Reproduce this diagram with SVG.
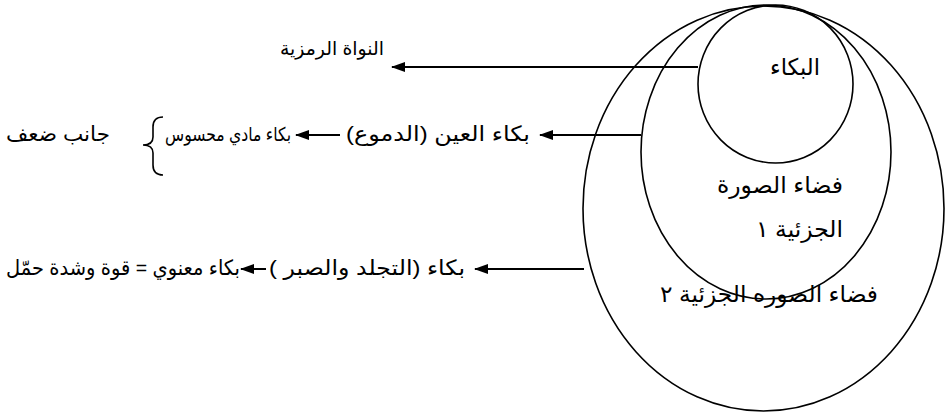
<svg xmlns="http://www.w3.org/2000/svg" width="946" height="413" viewBox="0 0 946 413">
<defs>
<style>
.c{fill:none;stroke:#000;stroke-width:1.6}
.l{fill:none;stroke:#000;stroke-width:2}
.t{font-family:"Liberation Sans","DejaVu Sans",sans-serif;font-size:21px;fill:#000;direction:rtl;text-anchor:start}
.s{font-size:19px}
.tc{font-family:"Liberation Sans","DejaVu Sans",sans-serif;font-size:23px;fill:#000;direction:rtl;text-anchor:start}
</style>
<marker id="ah" viewBox="0 0 14 10" refX="13" refY="5" markerWidth="14" markerHeight="10" markerUnits="userSpaceOnUse" orient="auto">
<path d="M0,0 L14,5 L0,10 z" fill="#000"/>
</marker>
</defs>
<rect width="946" height="413" fill="#fff"/>
<g id="outer-circle"><ellipse class="c" cx="763.5" cy="208.5" rx="180.5" ry="202.5"/>
<text class="tc" x="878" y="302" textLength="218" lengthAdjust="spacingAndGlyphs">فضاء الصوره الجزئية ٢</text></g>
<g id="middle-circle"><ellipse class="c" cx="766" cy="152" rx="125" ry="147"/>
<text class="tc" x="843" y="193" textLength="126" lengthAdjust="spacingAndGlyphs">فضاء الصورة</text>
<text class="tc" x="843" y="237" textLength="87" lengthAdjust="spacingAndGlyphs">الجزئية ١</text></g>
<g id="inner-circle"><ellipse class="c" cx="775.5" cy="84" rx="77.5" ry="79"/>
<text class="tc" x="820" y="75" textLength="50" lengthAdjust="spacingAndGlyphs">البكاء</text></g>
<g id="connectors">
<line class="l" x1="698" y1="67" x2="392" y2="67" marker-end="url(#ah)"/>
<line class="l" x1="641" y1="135" x2="540" y2="135" marker-end="url(#ah)"/>
<line class="l" x1="340" y1="135" x2="296" y2="135" marker-end="url(#ah)"/>
<line class="l" x1="584" y1="269" x2="475" y2="269" marker-end="url(#ah)"/>
<line class="l" x1="266" y1="269" x2="241" y2="269" marker-end="url(#ah)"/>
<path class="c" d="M163,117 Q153,117 153,127 L153,137 Q153,145 143,145 Q153,145 153,153 L153,165 Q153,175 163,175"/>
</g>
<g id="n-nawat"><text class="t s" x="384" y="55" textLength="104" lengthAdjust="spacingAndGlyphs">النواة الرمزية</text></g>
<g id="n-ayn"><text class="t" x="530" y="141" textLength="184" lengthAdjust="spacingAndGlyphs">بكاء العين (الدموع)</text></g>
<g id="n-maddi"><text class="t s" x="291" y="141" textLength="126" lengthAdjust="spacingAndGlyphs">بكاء مادي محسوس</text></g>
<g id="n-daf"><text class="t" x="110" y="141" textLength="104" lengthAdjust="spacingAndGlyphs">جانب ضعف</text></g>
<g id="n-tajallud"><text class="t" x="465" y="275" textLength="196" lengthAdjust="spacingAndGlyphs">بكاء (التجلد والصبر )</text></g>
<g id="n-manawi"><text class="t" x="240" y="275" textLength="234" lengthAdjust="spacingAndGlyphs">بكاء معنوي = قوة وشدة حمّل</text></g>
</svg>
